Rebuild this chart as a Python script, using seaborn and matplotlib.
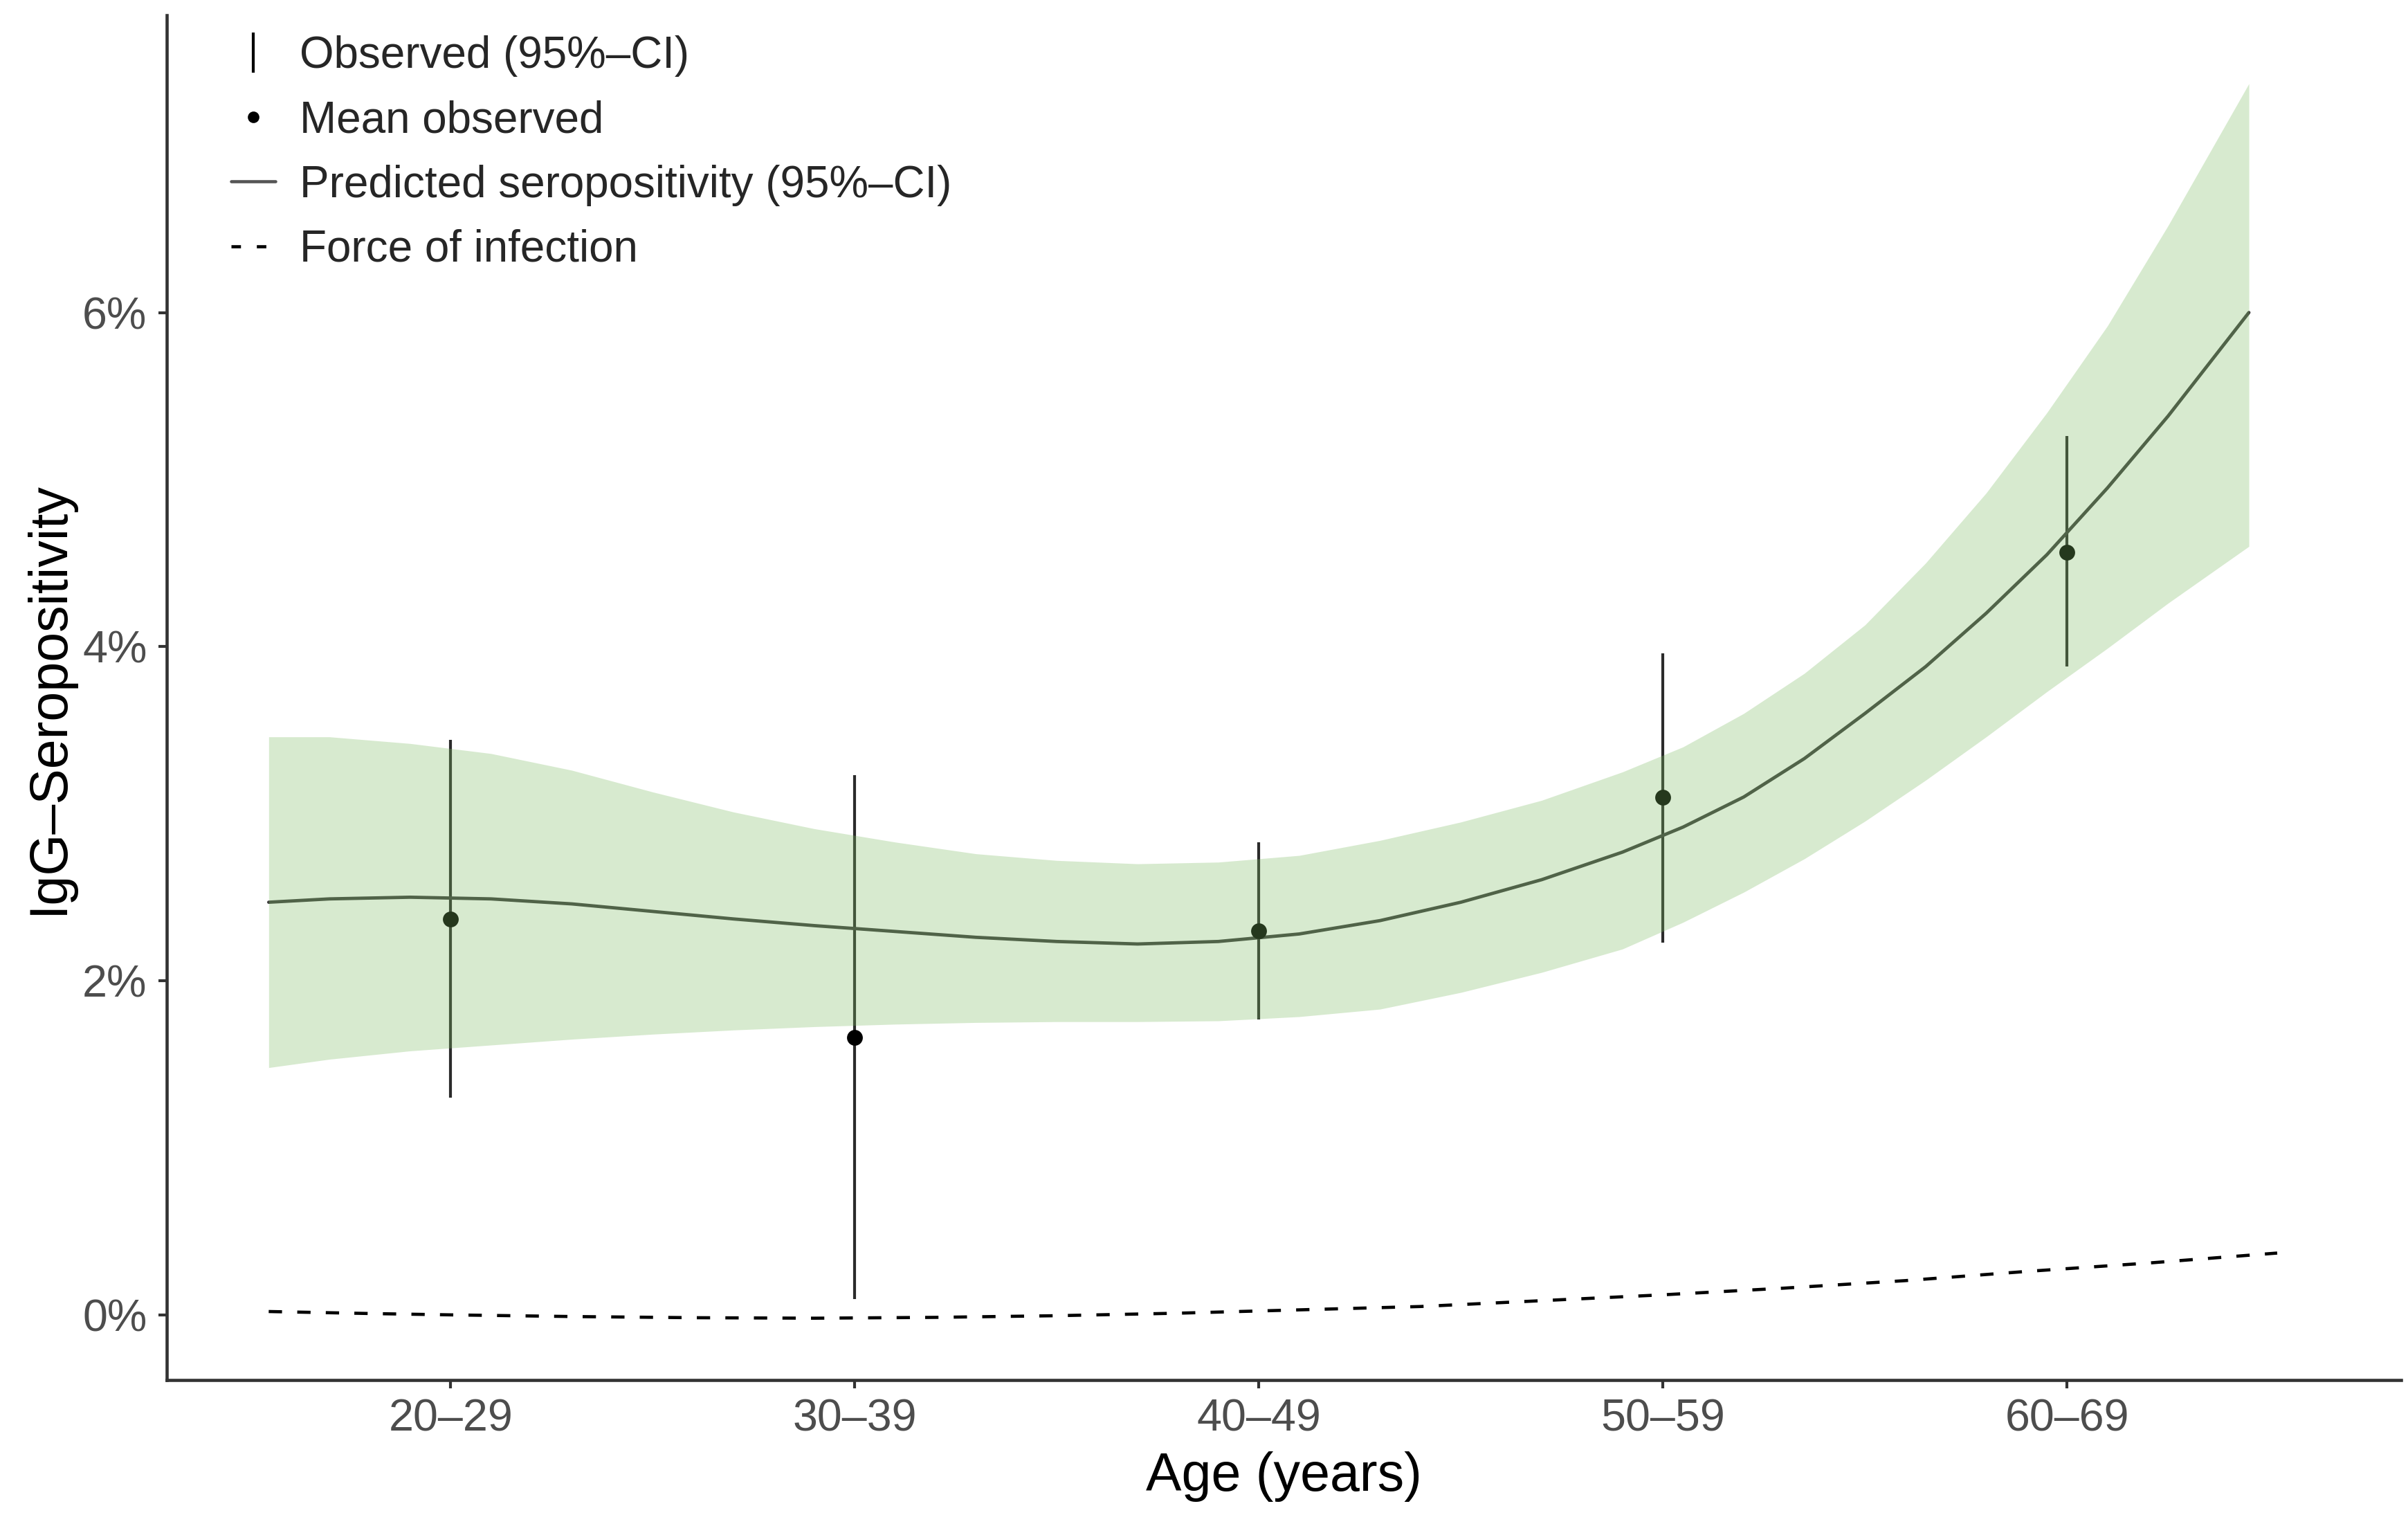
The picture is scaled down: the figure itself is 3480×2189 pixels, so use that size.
import numpy as np
import pandas as pd
import matplotlib
matplotlib.use("Agg")
import matplotlib.pyplot as plt
from matplotlib.lines import Line2D
from matplotlib.ticker import FuncFormatter
import seaborn as sns

# --- DATA ---
age_groups = ["20–29", "30–39", "40–49", "50–59", "60–69"]
group_mid = [25, 35, 45, 55, 65]
obs_mean = [2.37, 1.66, 2.30, 3.10, 4.565]
obs_low = [1.30, 0.095, 1.77, 2.23, 3.88]
obs_high = [3.44, 3.23, 2.83, 3.96, 5.26]

curve_age = [20.5, 22, 24, 26, 28, 30, 32, 34, 36, 38, 40, 42, 44, 46, 48, 50, 52, 54,
             55.5, 57, 58.5, 60, 61.5, 63, 64.5, 66, 67.5, 69.5]
pred = [2.47, 2.49, 2.50, 2.49, 2.46, 2.415, 2.37, 2.33, 2.295, 2.26, 2.235, 2.22, 2.235,
        2.28, 2.36, 2.47, 2.605, 2.77, 2.92, 3.10, 3.33, 3.60, 3.88, 4.20, 4.55, 4.95,
        5.38, 6.00]
pred_low = [1.48, 1.53, 1.58, 1.615, 1.65, 1.68, 1.705, 1.725, 1.74, 1.75, 1.755, 1.755,
            1.76, 1.785, 1.83, 1.93, 2.05, 2.19, 2.35, 2.53, 2.73, 2.955, 3.20, 3.46, 3.73,
            3.99, 4.26, 4.60]
pred_high = [3.46, 3.46, 3.42, 3.36, 3.26, 3.13, 3.01, 2.91, 2.83, 2.76, 2.72, 2.70, 2.71,
             2.75, 2.84, 2.95, 3.08, 3.25, 3.40, 3.60, 3.84, 4.13, 4.50, 4.92, 5.40, 5.92,
             6.52, 7.37]

foi_age = [20.5, 23, 25, 28, 31, 34, 37, 40, 43, 46, 49, 52, 55, 58, 61, 64, 67, 70.2]
foi = [0.02, 0.008, 0.0, -0.01, -0.017, -0.02, -0.015, -0.005, 0.01, 0.03, 0.05, 0.085,
       0.12, 0.16, 0.205, 0.26, 0.31, 0.37]

obs_df = pd.DataFrame({"age": group_mid, "mean": obs_mean, "low": obs_low, "high": obs_high})
pred_df = pd.DataFrame({"age": curve_age, "pred": pred, "low": pred_low, "high": pred_high})
foi_df = pd.DataFrame({"age": foi_age, "foi": foi})

# --- PLOTTING ---
sns.set_theme(style="ticks")
plt.rcParams["font.family"] = ["Liberation Sans", "DejaVu Sans"]

fig = plt.figure(figsize=(11.6, 2189 / 300), dpi=300)
ax = fig.add_axes([0.0693, 0.0891, 0.9279, 0.9009])

ribbon_col = "#7dbb63"
bar_col = "#2b2b2b"
line_col = "#3d3d3d"

# error bars and points sit under the ribbon so they pick up its green tint
ax.vlines(obs_df["age"], obs_df["low"], obs_df["high"], color=bar_col, lw=1.0, zorder=2)
sns.scatterplot(data=obs_df, x="age", y="mean", color="black", s=30, linewidth=0,
                zorder=3, ax=ax, legend=False)

sns.lineplot(data=pred_df, x="age", y="pred", color=line_col, lw=1.15,
             estimator=None, sort=False, ax=ax, zorder=2)
ax.fill_between(pred_df["age"], pred_df["low"], pred_df["high"], color=ribbon_col,
                alpha=0.3, lw=0, zorder=4)

sns.lineplot(data=foi_df, x="age", y="foi", color="black", lw=1.1, estimator=None,
             sort=False, ax=ax, zorder=5)
ax.lines[-1].set_dashes((4.2, 4.8))

ax.set_xlim(17.98, 73.27)
ax.set_ylim(-0.39, 7.78)
ax.set_xticks(group_mid)
ax.set_xticklabels(age_groups)
ax.set_yticks([0, 2, 4, 6])
ax.yaxis.set_major_formatter(FuncFormatter(lambda v, p: f"{v:.0f}%"))

sns.despine(ax=ax)
for s in ["left", "bottom"]:
    ax.spines[s].set_color("#333333")
    ax.spines[s].set_linewidth(1.1)
ax.tick_params(axis="both", colors="#333333", width=1.0, length=2.9,
               labelsize=15.5, labelcolor="#4d4d4d")
ax.tick_params(axis="x", pad=3.4)
ax.tick_params(axis="y", pad=4.0)

ax.set_xlabel("Age (years)", fontsize=18.5, color="black", labelpad=4)
ax.set_ylabel("IgG–Seropositivity", fontsize=18.5, color="black", labelpad=3)

handles = [
    Line2D([], [], color="black", marker="|", markersize=14, markeredgewidth=1.0, linestyle="None"),
    Line2D([], [], color="black", marker="o", markersize=3, linestyle="None"),
    Line2D([], [], color="#555555", lw=1.1),
    Line2D([], [], color="black", lw=1.1, dashes=(3.0, 5.0)),
]
labels = ["Observed (95%–CI)", "Mean observed", "Predicted seropositivity (95%–CI)",
          "Force of infection"]
ax.legend(handles, labels, loc="upper left", bbox_to_anchor=(0.0288, 0.985),
          frameon=False, fontsize=15.3, handlelength=1.0, handletextpad=0.55,
          labelspacing=0.52, borderpad=0, borderaxespad=0)

fig.savefig("out.png", dpi=300)
